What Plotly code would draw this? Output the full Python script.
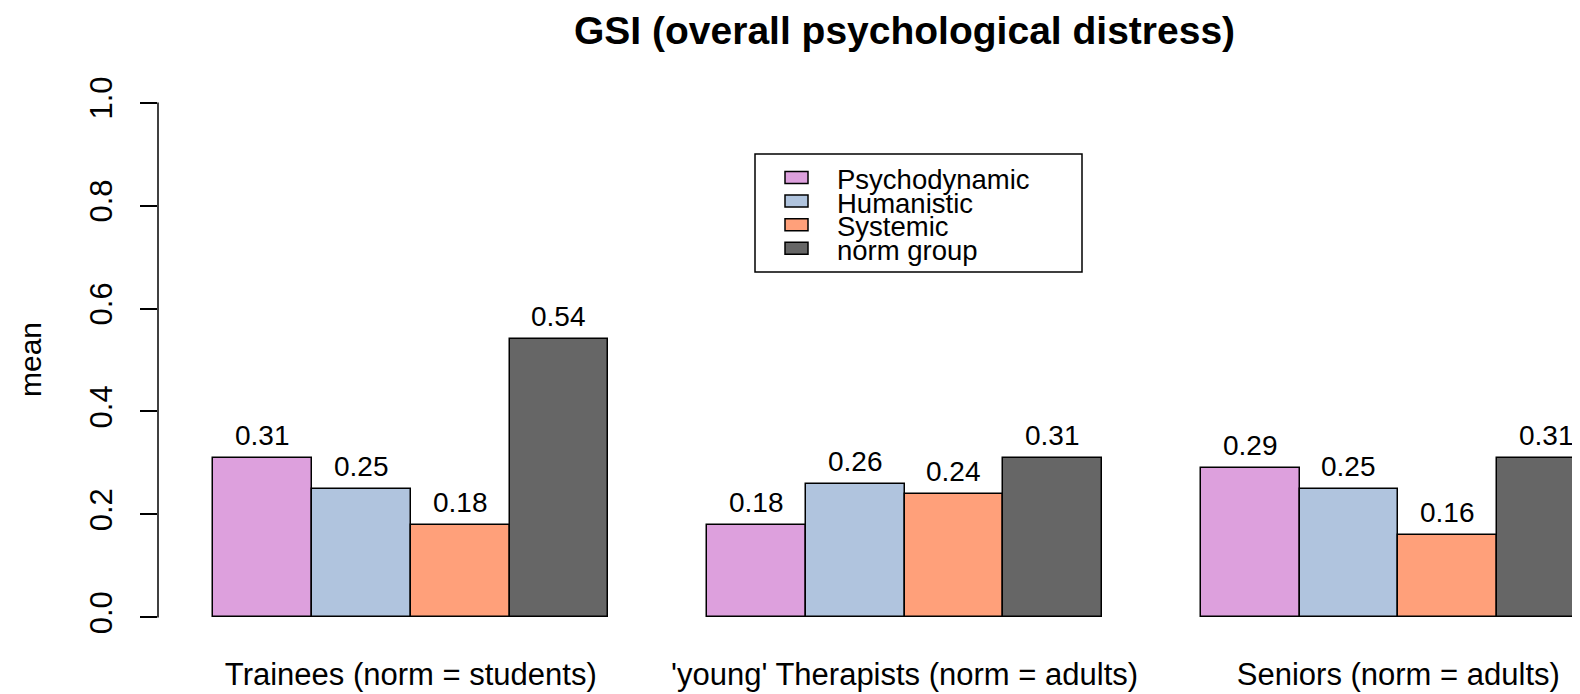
import plotly.graph_objects as go

# ---- data ----
groups = ["Trainees (norm = students)", "'young' Therapists (norm = adults)", "Seniors (norm = adults)"]
series_names = ["Psychodynamic", "Humanistic", "Systemic", "norm group"]
psychodynamic = [0.31, 0.18, 0.29]
humanistic = [0.25, 0.26, 0.25]
systemic = [0.18, 0.24, 0.16]
norm_group = [0.54, 0.31, 0.31]
colors = ["#DDA0DD", "#B0C4DE", "#FFA07A", "#666666"]
y_ticks = [0.0, 0.2, 0.4, 0.6, 0.8, 1.0]
y_ticktext = ["0.0", "0.2", "0.4", "0.6", "0.8", "1.0"]

series_values = [psychodynamic, humanistic, systemic, norm_group]
n_series = len(series_names)
FONT = "Liberation Sans, Arial, sans-serif"

# R barplot(beside=TRUE) layout: bar width 1, one empty bar between groups
def bar_center(g, s):
    return 1.5 + g * (n_series + 1) + s

group_centers = [1 + g * (n_series + 1) + n_series / 2 for g in range(len(groups))]

# page body has an 8px default margin: compensate
OFF = 8
W, H = 1580 - OFF, 694 - OFF
ML, MR, MT, MB = 158 - OFF, 0, 82 - OFF, 56
px_per_unit_x = 98.75
x0 = 0.44
x1 = x0 + (W - ML - MR) / px_per_unit_x

fig = go.Figure()
for s, (name, vals, col) in enumerate(zip(series_names, series_values, colors)):
    fig.add_trace(go.Bar(
        x=[bar_center(g, s) for g in range(len(groups))],
        y=vals, width=1.0, name=name,
        marker=dict(color=col, line=dict(color="black", width=1.5)),
        showlegend=False,
    ))
    for g, v in enumerate(vals):
        fig.add_annotation(x=bar_center(g, s), y=v, xref="x", yref="y",
                           text=f"{v:.2f}", showarrow=False, yanchor="bottom",
                           yshift=5, font=dict(size=28, color="black", family=FONT))

# title centred over R's plot region (mean of xlim)
fig.add_annotation(x=8, xref="x", y=1, yref="paper", yanchor="middle", yshift=52,
                   text="<b>GSI (overall psychological distress)</b>", showarrow=False,
                   font=dict(size=39, color="black", family=FONT))
# y axis title
fig.add_annotation(x=0, xref="paper", xshift=-128, xanchor="center", y=0.5, yref="y",
                   yanchor="middle", text="mean", textangle=-90, showarrow=False,
                   font=dict(size=30, color="black", family=FONT))

# y axis line only from 0 to 1 like R
fig.add_shape(type="line", xref="paper", yref="y", x0=0, x1=0, y0=y_ticks[0], y1=y_ticks[-1],
              line=dict(color="black", width=1.5))

# manual legend (R-style, tight rows); positions in window pixels
plot_w = W - ML - MR
plot_h = H - MT - MB
def px_to_paper_x(px):
    return (px - OFF - ML) / plot_w
def px_to_paper_y(py):
    return 1 - (py - OFF - MT) / plot_h

leg_left, leg_right, leg_top, leg_bottom = 755, 1082, 154, 272
fig.add_shape(type="rect", xref="paper", yref="paper",
              x0=px_to_paper_x(leg_left), x1=px_to_paper_x(leg_right),
              y0=px_to_paper_y(leg_bottom), y1=px_to_paper_y(leg_top),
              line=dict(color="black", width=1.5), fillcolor="white", layer="above")
row0, row_gap = 179.5, 23.6
for i, (name, col) in enumerate(zip(series_names, colors)):
    cy = row0 + i * row_gap
    fig.add_shape(type="rect", xref="paper", yref="paper",
                  x0=px_to_paper_x(785), x1=px_to_paper_x(808),
                  y0=px_to_paper_y(cy - 2 + 6), y1=px_to_paper_y(cy - 2 - 6),
                  line=dict(color="black", width=1.5), fillcolor=col, layer="above")
    fig.add_annotation(x=px_to_paper_x(835), xref="paper", y=px_to_paper_y(cy), yref="paper",
                       xanchor="left", yanchor="middle", text=name, showarrow=False,
                       font=dict(size=27.5, color="black", family=FONT))

fig.update_layout(
    width=W, height=H,
    margin=dict(l=ML, r=MR, t=MT, b=MB),
    plot_bgcolor="white", paper_bgcolor="white",
    barmode="overlay", bargap=0,
    font=dict(family=FONT, color="black"),
    xaxis=dict(range=[x0, x1], tickvals=group_centers, ticktext=groups, showgrid=False,
               zeroline=False, showline=False, ticks="", ticklabelstandoff=15,
               tickfont=dict(size=31, color="black", family=FONT)),
    yaxis=dict(range=[-0.04, 1.04], tickvals=y_ticks, ticktext=y_ticktext, showgrid=False,
               zeroline=False, showline=False, ticks="outside", ticklen=17, tickwidth=1.5,
               tickcolor="black", tickangle=-90, ticklabelstandoff=16,
               tickfont=dict(size=31, color="black", family=FONT)),
)

fig.write_html("out.html")
